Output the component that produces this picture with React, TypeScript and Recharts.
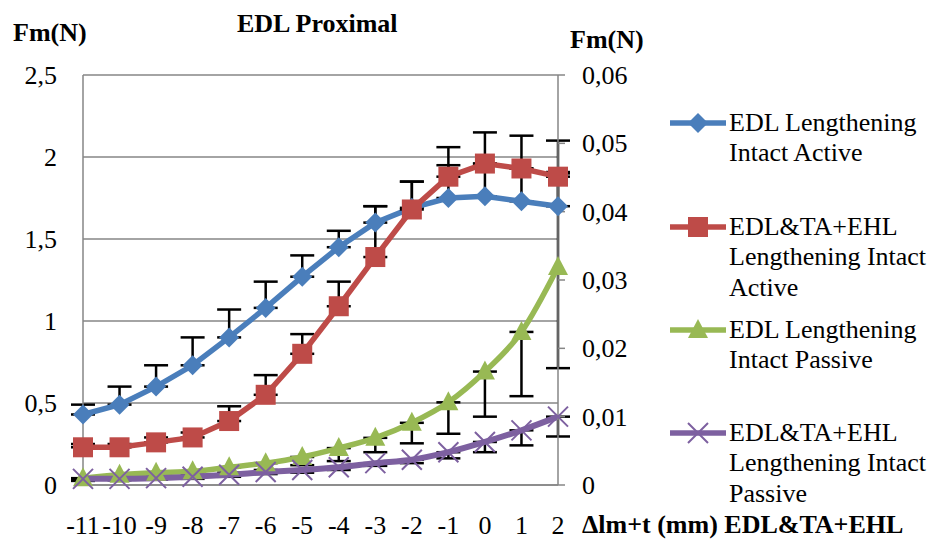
import { LineChart, Line, XAxis, YAxis, CartesianGrid, ErrorBar } from "recharts";

const FONT = '"Liberation Serif", Tinos, "Times New Roman", Times, "DejaVu Serif", serif';
const GRID = "#868686";

const COLORS = {
  edlActive: "#4a7ebb",
  allActive: "#be4b48",
  edlPassive: "#98b954",
  allPassive: "#7d60a0",
};

// lengthening steps (mm)
const POSITIONS = [-11, -10, -9, -8, -7, -6, -5, -4, -3, -2, -1, 0, 1, 2];

// active forces, left axis (N)
const EDL_ACTIVE = [0.43, 0.49, 0.6, 0.73, 0.9, 1.08, 1.27, 1.45, 1.6, 1.69, 1.75, 1.76, 1.73, 1.7];
const EDL_ACTIVE_SD = [0.06, 0.11, 0.13, 0.17, 0.17, 0.16, 0.13, 0.1, 0.1, 0.16, 0.2, 0.2, 0.2, 0.2];
const ALL_ACTIVE = [0.23, 0.23, 0.26, 0.29, 0.39, 0.55, 0.8, 1.09, 1.39, 1.68, 1.88, 1.96, 1.93, 1.88];
const ALL_ACTIVE_SD = [0.02, 0.02, 0.03, 0.03, 0.09, 0.12, 0.12, 0.15, 0.31, 0.17, 0.18, 0.19, 0.2, 0.22];

// passive forces, right axis (N)
const EDL_PASSIVE = [0.001, 0.0015, 0.0018, 0.002, 0.0026, 0.0032, 0.0041, 0.0054, 0.0069, 0.0091, 0.0121, 0.0166, 0.0224, 0.0319];
const EDL_PASSIVE_SD_LOW = [0.0004, 0.0004, 0.0005, 0.0005, 0.0008, 0.001, 0.0012, 0.0019, 0.0021, 0.003, 0.0046, 0.0066, 0.0094, 0.0148];
const EDL_PASSIVE_SD_HIGH = [0, 0, 0, 0, 0, 0, 0, 0, 0, 0, 0, 0, 0, 0.0139];
const ALL_PASSIVE = [0.0009, 0.0009, 0.001, 0.0012, 0.0015, 0.0019, 0.0022, 0.0026, 0.0032, 0.0037, 0.0048, 0.0063, 0.008, 0.01];
const ALL_PASSIVE_SD = [0.0002, 0.0002, 0.0002, 0.0003, 0.0003, 0.0003, 0.0004, 0.0004, 0.0004, 0.0005, 0.0009, 0.0015, 0.0022, 0.0029];

const LEFT_TICKS = [0, 0.5, 1, 1.5, 2, 2.5];
const RIGHT_TICKS = [0, 0.01, 0.02, 0.03, 0.04, 0.05, 0.06];

const LEGEND = [
  { key: "edlActive", lines: ["EDL Lengthening", "Intact Active"], shape: "diamond" },
  { key: "allActive", lines: ["EDL&TA+EHL", "Lengthening Intact", "Active"], shape: "square" },
  { key: "edlPassive", lines: ["EDL Lengthening", "Intact Passive"], shape: "triangle" },
  { key: "allPassive", lines: ["EDL&TA+EHL", "Lengthening Intact", "Passive"], shape: "cross" },
];

const data = POSITIONS.map((x, i) => ({
  x,
  edlActive: EDL_ACTIVE[i],
  edlActiveErr: [0, EDL_ACTIVE_SD[i]],
  allActive: ALL_ACTIVE[i],
  allActiveErr: [0, ALL_ACTIVE_SD[i]],
  edlPassive: EDL_PASSIVE[i],
  edlPassiveErr: [EDL_PASSIVE_SD_LOW[i], EDL_PASSIVE_SD_HIGH[i]],
  allPassive: ALL_PASSIVE[i],
  allPassiveErr: [ALL_PASSIVE_SD[i], 0],
}));

const comma = (v: number) => String(v).replace(".", ",");

function Marker({ shape, cx, cy }: { shape: string; cx: number; cy: number }) {
  if (shape === "diamond") {
    return <path d={`M${cx},${cy - 10}L${cx + 10},${cy}L${cx},${cy + 10}L${cx - 10},${cy}Z`} fill={COLORS.edlActive} />;
  }
  if (shape === "square") {
    return <rect x={cx - 10} y={cy - 10} width={20} height={20} fill={COLORS.allActive} />;
  }
  if (shape === "triangle") {
    return <path d={`M${cx},${cy - 11}L${cx + 10},${cy + 8}L${cx - 10},${cy + 8}Z`} fill={COLORS.edlPassive} />;
  }
  return (
    <path
      d={`M${cx - 10},${cy - 10}L${cx + 10},${cy + 10}M${cx - 10},${cy + 10}L${cx + 10},${cy - 10}`}
      stroke={COLORS.allPassive}
      strokeWidth={2}
      fill="none"
    />
  );
}

const dotFor = (shape: string) => (p: any) => <Marker key={`${shape}-${p.index}`} shape={shape} cx={p.cx} cy={p.cy} />;

const tickText = { fontFamily: FONT, fontSize: 26, fill: "#000" };

const LeftTick = (p: any) => (
  <text x={p.x} y={p.y} dy={9} textAnchor="end" {...tickText}>
    {comma(p.payload.value)}
  </text>
);
const RightTick = (p: any) => (
  <text x={p.x} y={p.y} dy={9} textAnchor="start" {...tickText}>
    {comma(p.payload.value)}
  </text>
);
const BottomTick = (p: any) => (
  <text x={p.x} y={p.y} dy={19} textAnchor="middle" {...tickText}>
    {String(p.payload.value)}
  </text>
);

const label: React.CSSProperties = {
  position: "absolute",
  fontFamily: FONT,
  fontSize: 26,
  lineHeight: "26px",
  fontWeight: "bold",
  whiteSpace: "nowrap",
};

export default function App() {
  return (
    <div style={{ position: "absolute", left: 0, top: 0, width: 934, height: 544, background: "#fff", fontFamily: FONT }}>
      <LineChart width={934} height={544} data={data} margin={{ top: 75, right: 316, bottom: 19, left: 0 }}>
        <CartesianGrid yAxisId="left" vertical={false} stroke={GRID} strokeWidth={1.5} />
        <XAxis
          dataKey="x"
          type="number"
          domain={[-11, 2]}
          ticks={POSITIONS}
          interval={0}
          height={40}
          axisLine={{ stroke: GRID, strokeWidth: 1.5 }}
          tickLine={false}
          tickMargin={24}
          tick={BottomTick}
        />
        <YAxis
          yAxisId="left"
          domain={[0, 2.5]}
          ticks={LEFT_TICKS}
          width={83}
          axisLine={{ stroke: GRID, strokeWidth: 1.5 }}
          tickLine={false}
          tickMargin={20}
          tick={LeftTick}
        />
        <YAxis
          yAxisId="right"
          orientation="right"
          domain={[0, 0.06]}
          ticks={RIGHT_TICKS}
          width={60}
          axisLine={{ stroke: GRID, strokeWidth: 1.5 }}
          tickLine={{ stroke: GRID, strokeWidth: 1.5 }}
          tickSize={7}
          tickMargin={17}
          tick={RightTick}
        />
        <Line
          yAxisId="right"
          dataKey="edlPassive"
          type="monotone"
          stroke={COLORS.edlPassive}
          strokeWidth={5.5}
          dot={dotFor("triangle")}
          isAnimationActive={false}
        >
          <ErrorBar dataKey="edlPassiveErr" direction="y" width={12} stroke="#000" strokeWidth={2.5} />
        </Line>
        <Line
          yAxisId="right"
          dataKey="allPassive"
          type="monotone"
          stroke={COLORS.allPassive}
          strokeWidth={6}
          dot={dotFor("cross")}
          isAnimationActive={false}
        >
          <ErrorBar dataKey="allPassiveErr" direction="y" width={12} stroke="#000" strokeWidth={2.5} />
        </Line>
        <Line
          yAxisId="left"
          dataKey="edlActive"
          type="linear"
          stroke={COLORS.edlActive}
          strokeWidth={5.5}
          dot={dotFor("diamond")}
          isAnimationActive={false}
        >
          <ErrorBar dataKey="edlActiveErr" direction="y" width={12} stroke="#000" strokeWidth={2.5} />
        </Line>
        <Line
          yAxisId="left"
          dataKey="allActive"
          type="linear"
          stroke={COLORS.allActive}
          strokeWidth={5.5}
          dot={dotFor("square")}
          isAnimationActive={false}
        >
          <ErrorBar dataKey="allActiveErr" direction="y" width={12} stroke="#000" strokeWidth={2.5} />
        </Line>
      </LineChart>

      <div style={{ ...label, left: 13, top: 20 }}>Fm(N)</div>
      <div style={{ ...label, left: 237, top: 11 }}>EDL Proximal</div>
      <div style={{ ...label, left: 570, top: 27 }}>Fm(N)</div>
      <div style={{ ...label, left: 582, top: 512 }}>Δlm+t (mm) EDL&amp;TA+EHL</div>

      {/* Legend */}
      {LEGEND.map((item, i) => {
        const top = [107.5, 211.5, 314.5, 417.5][i];
        const color = COLORS[item.key as keyof typeof COLORS];
        return (
          <div key={item.key} style={{ position: "absolute", left: 670, top }}>
            <svg width={56} height={30} style={{ position: "absolute", left: 0, top: 0 }}>
              <line x1={0} y1={15} x2={56} y2={15} stroke={color} strokeWidth={5.5} />
              <Marker shape={item.shape} cx={28} cy={15} />
            </svg>
            <div
              style={{
                position: "absolute",
                left: 59,
                top: 0,
                fontFamily: FONT,
                fontSize: 26,
                lineHeight: "30.5px",
                whiteSpace: "nowrap",
              }}
            >
              {item.lines.map((t) => (
                <div key={t}>{t}</div>
              ))}
            </div>
          </div>
        );
      })}
    </div>
  );
}
